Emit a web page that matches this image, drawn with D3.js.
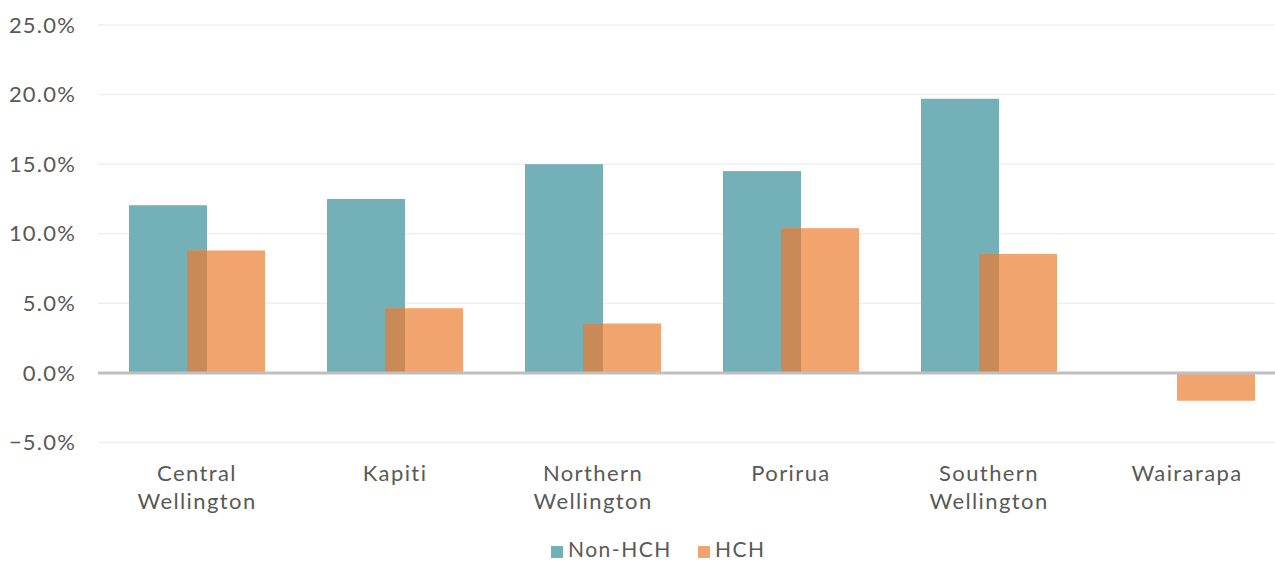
<!DOCTYPE html>
<html><head><meta charset="utf-8">
<script src="https://cdn.jsdelivr.net/npm/d3@7"></script>
<style>body{margin:0;background:#fff}svg{display:block;font-family:Lato,"Open Sans",sans-serif}</style>
</head><body><svg id="c" width="1275" height="563"></svg>
<script>
const categories = [["Central","Wellington"],["Kapiti"],["Northern","Wellington"],["Porirua"],["Southern","Wellington"],["Wairarapa"]];
const nonHCH = [12.05, 12.5, 15.0, 14.5, 19.7, 0];
const hch = [8.8, 4.65, 3.55, 10.4, 8.55, -2.0];
const yTicks = [-5, 0, 5, 10, 15, 20, 25];
const seriesNames = ["Non-HCH", "HCH"];
const colors = ["#74b0b7", "#f2a46e"];
const overlapColor = "#c98a58";

const svg = d3.select("#c");
const x = d3.scaleBand().domain(d3.range(categories.length)).range([98, 1286]).paddingInner(0).paddingOuter(0);
const y = d3.scaleLinear().domain([-5, 25]).range([442.5, 25]);
const bw = 78, off = 58; // bar width, offset between series within group
const gx = i => x(i) + x.bandwidth()/2 - (bw + off)/2;

// grid
svg.append("g").selectAll("line").data(yTicks.filter(t=>t!==0)).join("line")
  .attr("x1", 98).attr("x2", 1275).attr("y1", d=>y(d)).attr("y2", d=>y(d))
  .attr("stroke", "#efefef").attr("stroke-width", 1.5);

// y labels
svg.append("g").selectAll("text").data(yTicks).join("text")
  .attr("x", 76).attr("y", d=>y(d)).attr("dy", "0.35em").attr("text-anchor", "end")
  .attr("font-size", 22).attr("letter-spacing", 1.2).attr("fill", "#595959")
  .text(d=>d3.format(".1f")(d)+"%");

// bars
const bars = svg.append("g");
bars.selectAll(".a").data(nonHCH).join("rect")
  .attr("x", (d,i)=>gx(i)).attr("width", bw)
  .attr("y", d=>y(Math.max(0,d))).attr("height", d=>Math.abs(y(d)-y(0)))
  .attr("fill", colors[0]);
bars.selectAll(".b").data(hch).join("rect")
  .attr("x", (d,i)=>gx(i)+off).attr("width", bw)
  .attr("y", d=>y(Math.max(0,d))).attr("height", d=>Math.abs(y(d)-y(0)))
  .attr("fill", colors[1]);
// overlap
bars.selectAll(".o").data(hch).join("rect")
  .attr("x", (d,i)=>gx(i)+off).attr("width", bw-off)
  .attr("y", (d,i)=>y(Math.max(0, Math.min(d, nonHCH[i]))))
  .attr("height", (d,i)=> (d>0 && nonHCH[i]>0) ? y(0)-y(Math.min(d, nonHCH[i])) : 0)
  .attr("fill", overlapColor);

// zero axis
svg.append("line").attr("x1", 98).attr("x2", 1275).attr("y1", y(0)).attr("y2", y(0))
  .attr("stroke", "#bfbfbf").attr("stroke-width", 3);

// category labels
const cl = svg.append("g").selectAll("text").data(categories).join("text")
  .attr("x", (d,i)=>x(i)+x.bandwidth()/2).attr("y", 481)
  .attr("text-anchor", "middle").attr("font-size", 22).attr("letter-spacing", 1.4).attr("fill", "#595959");
cl.selectAll("tspan").data(d=>d).join("tspan")
  .attr("x", function(){return this.parentNode.getAttribute("x");})
  .attr("dy", (d,i)=> i===0 ? 0 : 28).text(d=>d);

// legend
const leg = svg.append("g");
const lx = [551, 698];
seriesNames.forEach((n,i)=>{
  leg.append("rect").attr("x", lx[i]).attr("y", 546).attr("width", 12).attr("height", 12).attr("fill", colors[i]);
  leg.append("text").attr("x", lx[i]+17).attr("y", 550).attr("dy","0.35em").attr("font-size", 21).attr("letter-spacing", 1.5).attr("fill", "#595959").text(n);
});
</script></body></html>
